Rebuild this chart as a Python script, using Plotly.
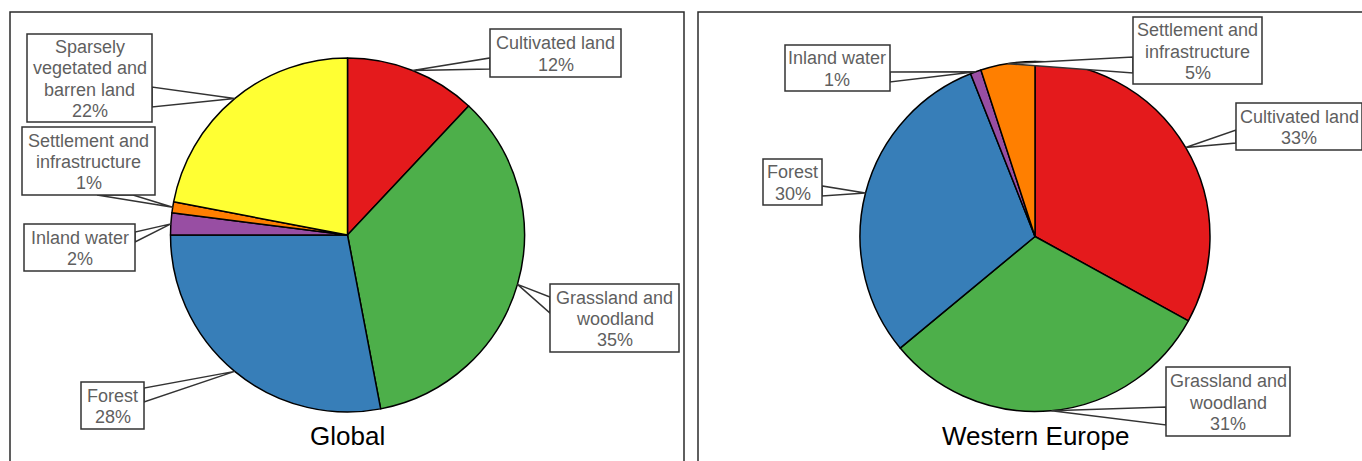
import math
import plotly.graph_objects as go

# ---- data -------------------------------------------------------------
categories_global = ["Cultivated land", "Grassland and woodland", "Forest",
                     "Inland water", "Settlement and infrastructure",
                     "Sparsely vegetated and barren land"]
values_global = [12, 35, 28, 2, 1, 22]

categories_weu = ["Cultivated land", "Grassland and woodland", "Forest",
                  "Inland water", "Settlement and infrastructure"]
values_weu = [33, 31, 30, 1, 5]

panel_titles = ["Global", "Western Europe"]

# line-wrapped label names
wrapped = {
    "Cultivated land": ["Cultivated land"],
    "Grassland and woodland": ["Grassland and", "woodland"],
    "Forest": ["Forest"],
    "Inland water": ["Inland water"],
    "Settlement and infrastructure": ["Settlement and", "infrastructure"],
    "Sparsely vegetated and barren land": ["Sparsely", "vegetated and", "barren land"],
}

colors = {
    "Cultivated land": "#E41A1C",
    "Grassland and woodland": "#4DAF4A",
    "Forest": "#377EB8",
    "Inland water": "#984EA3",
    "Settlement and infrastructure": "#FF7F00",
    "Sparsely vegetated and barren land": "#FFFF33",
}

# ---- layout geometry (pixels) -----------------------------------------
W, H = 1362, 461
FONT = "Liberation Sans, Arial, sans-serif"
LABEL_SIZE = 18
LINE_GAP = 21.3
TEXT_SHIFT = 1.0


def px(x):
    return x / W


def py(y):
    return 1 - y / H


# pie centre and radius per panel
pies = [
    dict(cx=347.5, cy=235.0, r=177.0),
    dict(cx=1035.0, cy=236.5, r=175.0),
]

# callout boxes: (x0, y0, x1, y1) and the two points where the pointer leaves the box
boxes = [
    {
        "Cultivated land": ((490, 29, 621, 77), [(490, 58), (490, 69)]),
        "Grassland and woodland": ((550, 284, 679, 352), [(550, 297), (550, 313)]),
        "Forest": ((81, 382, 144, 429), [(144, 388), (144, 402)]),
        "Inland water": ((24, 224, 135, 271), [(135, 232), (135, 242)]),
        "Settlement and infrastructure": ((22, 127, 155, 195), [(97, 195), (133, 195)]),
        "Sparsely vegetated and barren land": ((27, 34, 152, 122), [(152, 87), (152, 107)]),
    },
    {
        "Cultivated land": ((1236, 103, 1362, 150), [(1236, 130), (1236, 143)]),
        "Grassland and woodland": ((1166, 367, 1290, 436), [(1166, 407), (1166, 425)]),
        "Forest": ((763, 159, 822, 205), [(822, 186), (822, 196)]),
        "Inland water": ((785, 45, 890, 91), [(890, 72), (890, 82)]),
        "Settlement and infrastructure": ((1133, 17, 1262, 84), [(1133, 57), (1133, 73)]),
    },
]

datasets = [(categories_global, values_global), (categories_weu, values_weu)]

fig = go.Figure()
shapes = []
annotations = []

# panel frames
for x0, x1 in [(10, 684), (698, 1375)]:
    shapes.append(dict(type="rect", xref="paper", yref="paper",
                       x0=px(x0), x1=px(x1), y0=py(480), y1=py(12),
                       line=dict(color="#2b2b2b", width=1.5),
                       fillcolor="rgba(0,0,0,0)", layer="below"))

for i, ((cats, vals), geo, bx, title) in enumerate(zip(datasets, pies, boxes, panel_titles)):
    cx, cy, r = geo["cx"], geo["cy"], geo["r"]
    fig.add_trace(go.Pie(
        labels=cats, values=vals, sort=False, direction="clockwise", rotation=0,
        marker=dict(colors=[colors[c] for c in cats],
                    line=dict(color="#000000", width=1.5)),
        textinfo="none", hoverinfo="label+percent", showlegend=False,
        domain=dict(x=[px(cx - r), px(cx + r)], y=[py(cy + r), py(cy - r)]),
    ))

    total = sum(vals)
    cum = 0.0
    for cat, v in zip(cats, vals):
        mid = (cum + v / 2) / total * 2 * math.pi
        cum += v
        tipx = cx + r * math.sin(mid)
        tipy = cy - r * math.cos(mid)
        (x0, y0, x1, y1), (a, b) = bx[cat]

        # callout pointer from the slice edge to the box
        path = "M {:.5f},{:.5f} L {:.5f},{:.5f} L {:.5f},{:.5f} Z".format(
            px(tipx), py(tipy), px(a[0]), py(a[1]), px(b[0]), py(b[1]))
        shapes.append(dict(type="path", xref="paper", yref="paper", path=path,
                           fillcolor="white", line=dict(color="#333333", width=1.5),
                           layer="above"))
        # callout box
        shapes.append(dict(type="rect", xref="paper", yref="paper",
                           x0=px(x0), x1=px(x1), y0=py(y1), y1=py(y0),
                           fillcolor="white", line=dict(color="#333333", width=1.5),
                           layer="above"))

        pct = round(v / total * 100)
        lines = wrapped[cat] + ["{}%".format(pct)]
        bcx, bcy = (x0 + x1) / 2, (y0 + y1) / 2 + TEXT_SHIFT
        n = len(lines)
        for k, line in enumerate(lines):
            ly = bcy + (k - (n - 1) / 2) * LINE_GAP
            annotations.append(dict(
                xref="paper", yref="paper", x=px(bcx), y=py(ly),
                xanchor="center", yanchor="middle", showarrow=False, text=line,
                font=dict(family=FONT, size=LABEL_SIZE, color="#5f5f5f"),
            ))

    annotations.append(dict(
        xref="paper", yref="paper", x=px(cx), y=py(436),
        xanchor="center", yanchor="middle", showarrow=False, text=title,
        font=dict(family=FONT, size=26, color="#000000"),
    ))

fig.update_layout(
    width=W, height=H,
    margin=dict(l=0, r=0, t=0, b=0),
    paper_bgcolor="white", plot_bgcolor="white",
    shapes=shapes, annotations=annotations,
)

fig.write_html("out.html")
